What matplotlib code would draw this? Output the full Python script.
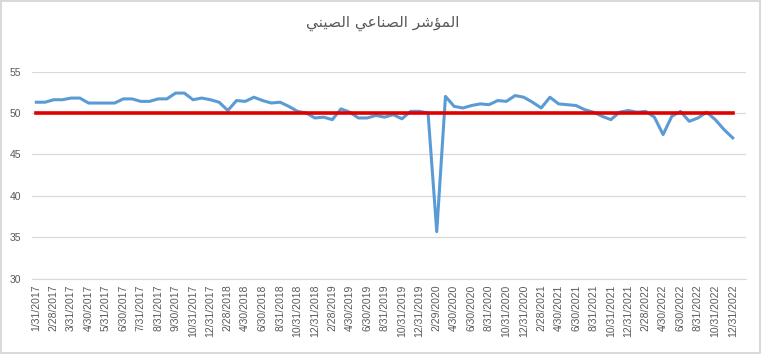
import matplotlib
matplotlib.use("Agg")
import matplotlib.pyplot as plt

# ── Data ──────────────────────────────────────────────────────────────────────
# Category labels as in the sheet: Jan-Sep 2017 appear twice (two rows per month)
DATES = [
    "1/31/2017", "1/31/2017", "2/28/2017", "2/28/2017", "3/31/2017", "3/31/2017",
    "4/30/2017", "4/30/2017", "5/31/2017", "5/31/2017", "6/30/2017", "6/30/2017",
    "7/31/2017", "7/31/2017", "8/31/2017", "8/31/2017", "9/30/2017", "9/30/2017",
    "10/31/2017", "11/30/2017", "12/31/2017",
    "1/31/2018", "2/28/2018", "3/31/2018", "4/30/2018", "5/31/2018", "6/30/2018",
    "7/31/2018", "8/31/2018", "9/30/2018", "10/31/2018", "11/30/2018", "12/31/2018",
    "1/31/2019", "2/28/2019", "3/31/2019", "4/30/2019", "5/31/2019", "6/30/2019",
    "7/31/2019", "8/31/2019", "9/30/2019", "10/31/2019", "11/30/2019", "12/31/2019",
    "1/31/2020", "2/29/2020", "3/31/2020", "4/30/2020", "5/31/2020", "6/30/2020",
    "7/31/2020", "8/31/2020", "9/30/2020", "10/31/2020", "11/30/2020", "12/31/2020",
    "1/31/2021", "2/28/2021", "3/31/2021", "4/30/2021", "5/31/2021", "6/30/2021",
    "7/31/2021", "8/31/2021", "9/30/2021", "10/31/2021", "11/30/2021", "12/31/2021",
    "1/31/2022", "2/28/2022", "3/31/2022", "4/30/2022", "5/31/2022", "6/30/2022",
    "7/31/2022", "8/31/2022", "9/30/2022", "10/31/2022", "11/30/2022", "12/31/2022",
    "1/31/2023",
]

PMI = [
    51.3, 51.3, 51.6, 51.6, 51.8, 51.8, 51.2, 51.2, 51.2, 51.2, 51.7, 51.7,
    51.4, 51.4, 51.7, 51.7, 52.4, 52.4, 51.6, 51.8, 51.6,
    51.3, 50.3, 51.5, 51.4, 51.9, 51.5, 51.2, 51.3, 50.8, 50.2, 50.0, 49.4,
    49.5, 49.2, 50.5, 50.1, 49.4, 49.4, 49.7, 49.5, 49.8, 49.3, 50.2, 50.2,
    50.0, 35.7, 52.0, 50.8, 50.6, 50.9, 51.1, 51.0, 51.5, 51.4, 52.1, 51.9,
    51.3, 50.6, 51.9, 51.1, 51.0, 50.9, 50.4, 50.1, 49.6, 49.2, 50.1, 50.3,
    50.1, 50.2, 49.5, 47.4, 49.6, 50.2, 49.0, 49.4, 50.1, 49.2, 48.0, 47.0,
]
THRESHOLD = 50

Y_TICKS = [30, 35, 40, 45, 50, 55]
TITLE = "المؤشر الصناعي الصيني"


# ── Minimal Arabic shaping (matplotlib has no bidi / joining) ─────────────────
# letter: (isolated, final, initial, medial); None = does not join forward
FORMS = {
    "ا": ("\uFE8D", "\uFE8E", None, None),
    "ل": ("\uFEDD", "\uFEDE", "\uFEDF", "\uFEE0"),
    "م": ("\uFEE1", "\uFEE2", "\uFEE3", "\uFEE4"),
    "ؤ": ("\uFE85", "\uFE86", None, None),
    "ش": ("\uFEB5", "\uFEB6", "\uFEB7", "\uFEB8"),
    "ر": ("\uFEAD", "\uFEAE", None, None),
    "ص": ("\uFEB9", "\uFEBA", "\uFEBB", "\uFEBC"),
    "ن": ("\uFEE5", "\uFEE6", "\uFEE7", "\uFEE8"),
    "ع": ("\uFEC9", "\uFECA", "\uFECB", "\uFECC"),
    "ي": ("\uFEF1", "\uFEF2", "\uFEF3", "\uFEF4"),
}


def shape_arabic(text):
    out = []
    for word in text.split(" "):
        chars = list(word)
        shaped = []
        for i, ch in enumerate(chars):
            iso, fin, ini, med = FORMS[ch]
            prev_joins = i > 0 and FORMS[chars[i - 1]][2] is not None
            next_exists = i < len(chars) - 1
            if prev_joins and next_exists and med:
                shaped.append(med)
            elif prev_joins:
                shaped.append(fin)
            elif next_exists and ini:
                shaped.append(ini)
            else:
                shaped.append(iso)
        out.append("".join(shaped))
    return " ".join(out)[::-1]


# ── Figure ────────────────────────────────────────────────────────────────────
plt.rcParams["font.family"] = ["Liberation Sans", "DejaVu Sans"]

fig = plt.figure(figsize=(7.61, 3.54), dpi=100)
fig.patch.set_edgecolor("#D9D9D9")
fig.patch.set_linewidth(1.5)
ax = fig.add_axes([0.042, 0.212, 0.938, 0.586])

x = list(range(len(PMI)))
ax.plot(x, PMI, color="#5B9BD5", lw=2.2, solid_joinstyle="round", zorder=3)
ax.plot(x, [THRESHOLD] * len(PMI), color="#E00000", lw=2.6, zorder=4)

ax.set_xlim(-0.5, len(DATES) - 0.5)
ax.set_ylim(30, 55)
ax.set_yticks(Y_TICKS)
ax.set_xticks(range(0, len(DATES), 2))
ax.set_xticklabels(DATES[::2], rotation=90, fontsize=7.5, color="#595959")
ax.tick_params(axis="y", labelsize=7.5, labelcolor="#595959", length=0, pad=8)
ax.tick_params(axis="x", length=0, pad=4)

ax.grid(True, axis="y", color="#D9D9D9", lw=0.9)
ax.set_axisbelow(True)
for side in ["top", "right", "left"]:
    ax.spines[side].set_visible(False)
ax.spines["bottom"].set_color("#D9D9D9")

fig.text(0.503, 0.935, shape_arabic(TITLE), ha="center", va="center",
         fontsize=11, color="#595959", family="DejaVu Sans")

fig.savefig("out.png", dpi=100)
